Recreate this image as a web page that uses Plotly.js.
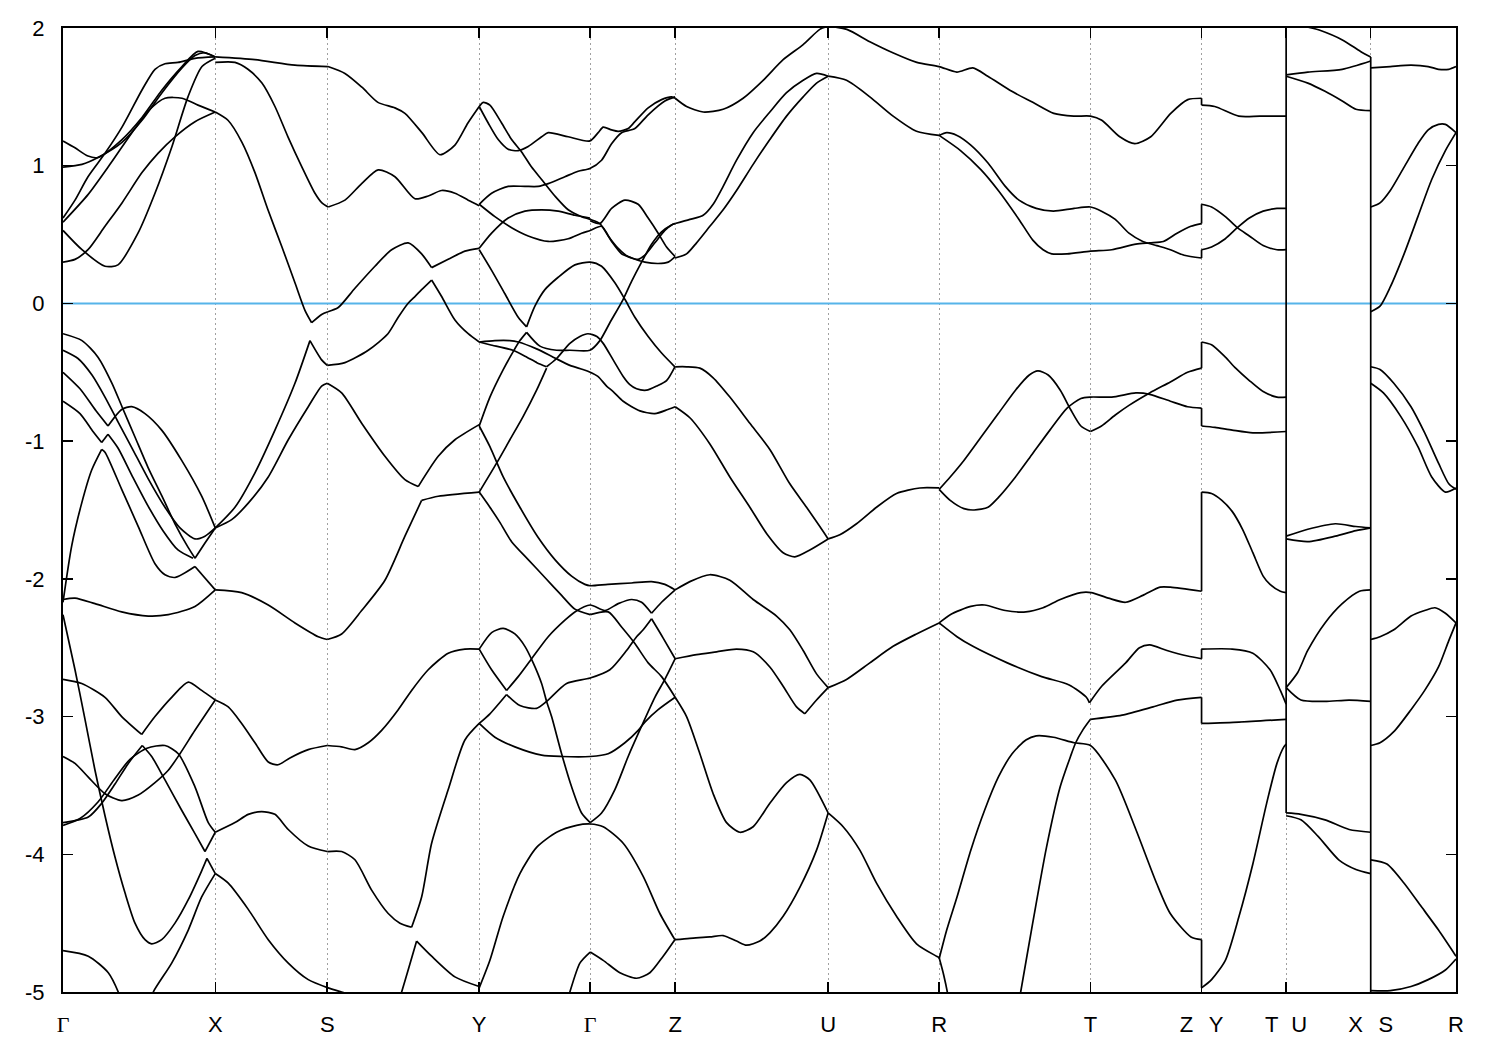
<!DOCTYPE html>
<html>
<head>
<meta charset="utf-8">
<script src="https://cdn.plot.ly/plotly-3.0.1.min.js"></script>
<style>html,body{margin:0;padding:0;background:#fff;}#plot{width:1500px;height:1050px;}</style>
</head>
<body>
<div id="plot"></div>
<script>
// High-symmetry path (k in path-length units) and labels
const kTicks = [0, 1.523, 2.643, 4.163, 5.273, 6.123, 7.653, 8.763, 10.277, 11.388, 12.234, 13.08, 13.933];
const kLabels = ['Γ','X','S','Y','Γ','Z','U','R','T','Z\u2002\u2009Y','T\u2002\u200AU','X\u2002\u2009S','R'];
const eTicks = [-5,-4,-3,-2,-1,0,1,2];
const eLabels = ['-5','-4','-3','-2','-1','0','1','2'];

// Band curves: [k, E(eV)], third element 1 marks a sharp kink
const bandsGX = [
 [[0,1.18],[0.12,1.13],[0.25,1.07],[0.35,1.06],[0.59,1.19],[0.79,1.35],[0.99,1.55],[1.19,1.72],[1.35,1.83],[1.523,1.79]],
 [[0,0.99],[0.19,1.01],[0.35,1.06],[0.59,1.17],[0.79,1.33],[0.99,1.53],[1.19,1.71],[1.32,1.80],[1.42,1.82],[1.523,1.79]],
 [[0,0.62],[0.12,0.75],[0.25,0.92],[0.42,1.09],[0.59,1.28],[0.79,1.55],[0.92,1.70],[1.02,1.74],[1.15,1.75],[1.32,1.78],[1.523,1.79]],
 [[0,0.59],[0.25,0.79],[0.47,1.01],[0.67,1.22],[0.87,1.41],[1.02,1.49],[1.19,1.49],[1.35,1.44],[1.523,1.39]],
 [[0,0.53],[0.19,0.39],[0.42,0.27],[0.55,0.28],[0.75,0.51],[0.92,0.80],[1.09,1.14],[1.25,1.50],[1.39,1.72],[1.523,1.78]],
 [[0,0.30],[0.12,0.32],[0.25,0.39],[0.42,0.56],[0.59,0.73],[0.79,0.95],[0.95,1.09],[1.12,1.21],[1.32,1.32],[1.523,1.39]],
 [[0,-0.22],[0.19,-0.27],[0.35,-0.39],[0.49,-0.58],[0.59,-0.75],[0.72,-0.97],[0.85,-1.19],[0.99,-1.40],[1.12,-1.60],[1.25,-1.77],[1.32,-1.85,1],[1.42,-1.74],[1.523,-1.63]],
 [[0,-0.34],[0.15,-0.40],[0.29,-0.52],[0.42,-0.68],[0.55,-0.86],[0.69,-1.05],[0.85,-1.27],[1.02,-1.48],[1.17,-1.63],[1.32,-1.71],[1.42,-1.69],[1.523,-1.63]],
 [[0,-0.50],[0.17,-0.62],[0.33,-0.78],[0.45,-0.89,1],[0.587,-0.77],[0.687,-0.75],[0.82,-0.80],[0.987,-0.92],[1.187,-1.14],[1.387,-1.40],[1.523,-1.63]],
 [[0,-0.71],[0.17,-0.80],[0.30,-0.93],[0.387,-1.01,1],[0.45,-0.95,1],[0.55,-1.05],[0.69,-1.25],[0.85,-1.47],[1.00,-1.65],[1.15,-1.79],[1.30,-1.85]],
 [[0,-2.17],[0.087,-1.76],[0.187,-1.45],[0.287,-1.21],[0.387,-1.06,1],[0.42,-1.08],[0.587,-1.35],[0.753,-1.62],[0.92,-1.89],[1.02,-1.97],[1.12,-1.99],[1.32,-1.91,1],[1.523,-2.08]],
 [[0,-2.15],[0.12,-2.14],[0.32,-2.18],[0.587,-2.24],[0.853,-2.27],[1.053,-2.26],[1.32,-2.20],[1.523,-2.08]],
 [[0,-2.26],[0.12,-2.66],[0.22,-3.02],[0.32,-3.39],[0.42,-3.72],[0.52,-4.02],[0.62,-4.28],[0.72,-4.50],[0.82,-4.62],[0.887,-4.65],[0.987,-4.62],[1.12,-4.50],[1.253,-4.33],[1.387,-4.12],[1.44,-4.03,1],[1.523,-4.14]],
 [[0.87,-5.08],[0.903,-5.0],[1.087,-4.79],[1.253,-4.55],[1.387,-4.31],[1.523,-4.14]],
 [[0,-2.73],[0.187,-2.76],[0.42,-2.86],[0.587,-3.00],[0.787,-3.13,1],[0.92,-3.00],[1.087,-2.86],[1.253,-2.75],[1.387,-2.81],[1.523,-2.88]],
 [[0,-3.29],[0.12,-3.34],[0.253,-3.44],[0.42,-3.56],[0.587,-3.61],[0.753,-3.57],[0.92,-3.48],[1.053,-3.39],[1.17,-3.27],[1.32,-3.10],[1.523,-2.88]],
 [[0,-3.77],[0.253,-3.73],[0.387,-3.63],[0.52,-3.49],[0.653,-3.34],[0.793,-3.21,1],[0.887,-3.29],[1.02,-3.46],[1.187,-3.68],[1.32,-3.85],[1.42,-3.98,1],[1.523,-3.84]],
 [[0,-3.79],[0.17,-3.74],[0.35,-3.62],[0.52,-3.45],[0.67,-3.31],[0.84,-3.23],[1.02,-3.21],[1.153,-3.27],[1.32,-3.51],[1.453,-3.77],[1.523,-3.84]],
 [[0,-4.70],[0.253,-4.74],[0.453,-4.86],[0.553,-5.0],[0.59,-5.08]]
];

const bandsXS = [
 [[1.523,1.79],[1.92,1.77],[2.32,1.73],[2.65,1.72]],
 [[1.523,1.75],[1.72,1.75],[1.85,1.70],[1.99,1.60],[2.12,1.43],[2.25,1.21],[2.39,0.99],[2.52,0.80],[2.59,0.73],[2.653,0.70]],
 [[1.523,1.39],[1.65,1.33],[1.79,1.17],[1.92,0.95],[2.05,0.68],[2.19,0.41],[2.32,0.15],[2.42,-0.05],[2.487,-0.14,1],[2.587,-0.08],[2.65,-0.06]],
 [[1.523,-1.63],[1.687,-1.57],[1.853,-1.45],[2.053,-1.26],[2.253,-0.99],[2.453,-0.75],[2.587,-0.60],[2.643,-0.58]],
 [[1.523,-1.63],[1.72,-1.48],[1.92,-1.23],[2.12,-0.92],[2.32,-0.58],[2.47,-0.27,1],[2.587,-0.41],[2.643,-0.45]],
 [[1.523,-2.08],[1.787,-2.10],[2.053,-2.19],[2.32,-2.32],[2.553,-2.42],[2.643,-2.44]],
 [[1.523,-2.88],[1.653,-2.93],[1.787,-3.05],[1.92,-3.19],[2.053,-3.33],[2.15,-3.35],[2.27,-3.30],[2.453,-3.24],[2.643,-3.21]],
 [[1.523,-3.84],[1.72,-3.77],[1.853,-3.71],[1.987,-3.69],[2.12,-3.71],[2.253,-3.82],[2.453,-3.94],[2.643,-3.98]],
 [[1.523,-4.14],[1.653,-4.21],[1.853,-4.40],[2.053,-4.62],[2.253,-4.79],[2.453,-4.91],[2.653,-4.97],[2.787,-5.0],[2.92,-5.03]]
];

const bandsSY = [
 [[2.65,1.72],[2.82,1.67],[2.99,1.57],[3.15,1.46],[3.32,1.42],[3.42,1.38],[3.59,1.24],[3.77,1.08],[3.92,1.15],[4.05,1.31],[4.163,1.43]],
 [[2.653,0.70],[2.82,0.75],[2.987,0.87],[3.153,0.97],[3.32,0.92],[3.52,0.76],[3.653,0.78],[3.787,0.82],[3.92,0.80],[4.053,0.75],[4.163,0.71]],
 [[2.65,-0.06],[2.753,-0.03],[2.92,0.11],[3.12,0.27],[3.287,0.39],[3.453,0.44],[3.587,0.36],[3.687,0.26,1],[3.853,0.32],[4.02,0.38],[4.163,0.40]],
 [[2.643,-0.45],[2.82,-0.43],[3.053,-0.34],[3.25,-0.22],[3.353,-0.10],[3.45,0.0],[3.52,0.05],[3.587,0.10],[3.687,0.17,1],[3.787,0.05],[3.92,-0.12],[4.053,-0.22],[4.163,-0.28]],
 [[2.643,-0.58],[2.787,-0.65],[2.987,-0.87],[3.22,-1.11],[3.42,-1.28],[3.553,-1.33,1],[3.753,-1.11],[3.92,-0.99],[4.163,-0.88]],
 [[2.643,-2.44],[2.787,-2.40],[2.987,-2.23],[3.22,-2.01],[3.42,-1.69],[3.587,-1.43,1],[3.753,-1.40],[4.163,-1.37]],
 [[2.643,-3.21],[2.787,-3.22],[2.92,-3.24],[3.053,-3.19],[3.187,-3.10],[3.353,-2.95],[3.487,-2.81],[3.653,-2.66],[3.853,-2.54],[4.02,-2.51],[4.163,-2.51]],
 [[2.643,-3.98],[2.787,-3.98],[2.92,-4.04],[3.087,-4.26],[3.253,-4.43],[3.37,-4.50],[3.487,-4.53,1],[3.587,-4.31],[3.687,-3.92],[3.853,-3.53],[4.02,-3.17],[4.163,-3.05]],
 [[3.35,-5.08],[3.387,-5.0],[3.537,-4.63,1],[3.687,-4.74],[3.92,-4.89],[4.163,-4.96]]
];

const bandsYGZ = [
 [[4.163,1.43],[4.253,1.31],[4.353,1.19],[4.453,1.12],[4.553,1.11],[4.653,1.14],[4.787,1.21],[4.853,1.24],[5.053,1.21],[5.27,1.18],[5.353,1.24],[5.403,1.28],[5.487,1.26],[5.553,1.25],[5.653,1.27],[5.72,1.32],[5.853,1.42],[5.987,1.48],[6.087,1.50],[6.123,1.49]],
 [[4.163,1.43],[4.203,1.46],[4.27,1.44],[4.387,1.31],[4.487,1.19],[4.587,1.10],[4.687,0.99],[4.787,0.90],[4.92,0.78],[5.053,0.68],[5.187,0.63],[5.273,0.61],[5.37,0.58],[5.453,0.49],[5.553,0.40],[5.653,0.34],[5.753,0.32],[5.82,0.35],[5.92,0.44],[6.02,0.53],[6.087,0.57],[6.123,0.58]],
 [[4.163,0.72],[4.287,0.80],[4.453,0.85],[4.62,0.85],[4.753,0.85],[4.853,0.87],[5.02,0.92],[5.153,0.96],[5.27,0.98],[5.387,1.04],[5.487,1.16],[5.587,1.24],[5.72,1.27],[5.853,1.37],[6.02,1.47],[6.123,1.50]],
 [[4.163,0.72],[4.32,0.63],[4.487,0.55],[4.653,0.49],[4.853,0.45],[5.053,0.47],[5.187,0.51],[5.273,0.53],[5.387,0.56],[5.487,0.45],[5.587,0.36],[5.687,0.33],[5.82,0.30],[5.953,0.29],[6.053,0.30],[6.123,0.34]],
 [[5.273,0.60],[5.37,0.58],[5.487,0.69],[5.62,0.75],[5.753,0.72],[5.853,0.62],[5.953,0.51],[6.037,0.41],[6.123,0.34]],
 [[4.163,0.40],[4.287,0.51],[4.453,0.62],[4.62,0.67],[4.787,0.68],[4.953,0.67],[5.12,0.64],[5.27,0.62]],
 [[4.163,0.39],[4.287,0.24],[4.42,0.07],[4.553,-0.10],[4.637,-0.17,1],[4.72,-0.02],[4.82,0.10],[4.953,0.19],[5.12,0.28],[5.273,0.30],[5.387,0.27],[5.52,0.15],[5.62,0.03],[5.72,-0.10],[5.853,-0.24],[5.987,-0.36],[6.12,-0.46]],
 [[4.163,-0.89],[4.27,-0.68],[4.403,-0.48],[4.503,-0.35],[4.57,-0.27],[4.637,-0.21,1],[4.77,-0.31],[4.937,-0.34],[5.07,-0.34],[5.27,-0.34],[5.37,-0.27],[5.47,-0.14],[5.603,0.03],[5.687,0.16],[5.787,0.30],[5.887,0.43],[5.987,0.52],[6.087,0.57],[6.123,0.58]],
 [[4.163,-0.28],[4.27,-0.30],[4.50,-0.34],[4.64,-0.39],[4.74,-0.43],[4.837,-0.46,1],[4.937,-0.40],[5.07,-0.29],[5.17,-0.24],[5.25,-0.22],[5.34,-0.24],[5.403,-0.29],[5.503,-0.41],[5.603,-0.53],[5.67,-0.59],[5.737,-0.62],[5.837,-0.63],[5.937,-0.60],[6.037,-0.56],[6.12,-0.46]],
 [[4.163,-1.37],[4.337,-1.16],[4.47,-0.99],[4.603,-0.82],[4.737,-0.63],[4.837,-0.47]],
 [[4.163,-0.28],[4.32,-0.27],[4.47,-0.27],[4.553,-0.28],[4.737,-0.33],[4.903,-0.39],[5.07,-0.45],[5.20,-0.48],[5.273,-0.50],[5.35,-0.53],[5.437,-0.60],[5.503,-0.64],[5.603,-0.71],[5.77,-0.78],[5.92,-0.80],[6.05,-0.77],[6.123,-0.75]],
 [[4.163,-0.89],[4.27,-1.04],[4.403,-1.26],[4.57,-1.48],[4.753,-1.70],[4.92,-1.86],[5.087,-1.98],[5.22,-2.04],[5.273,-2.05],[5.45,-2.04],[5.687,-2.03],[5.887,-2.02],[6.02,-2.04],[6.123,-2.08]],
 [[4.163,-1.37],[4.27,-1.48],[4.37,-1.59],[4.487,-1.73],[4.653,-1.86],[4.82,-1.99],[4.987,-2.12],[5.12,-2.22],[5.273,-2.26,1],[5.453,-2.24],[5.587,-2.35],[5.72,-2.47],[5.853,-2.61],[5.987,-2.71],[6.123,-2.86]],
 [[4.163,-2.51],[4.287,-2.66],[4.437,-2.81,1],[4.553,-2.71],[4.687,-2.58],[4.853,-2.42],[5.02,-2.30],[5.12,-2.24],[5.273,-2.19],[5.42,-2.23],[5.553,-2.18],[5.687,-2.15],[5.787,-2.17],[5.887,-2.25,1],[5.987,-2.17],[6.123,-2.08]],
 [[4.163,-2.51],[4.287,-2.39],[4.403,-2.36],[4.52,-2.40],[4.62,-2.49],[4.703,-2.61],[4.787,-2.76],[4.837,-2.89],[4.887,-3.00],[4.987,-3.27],[5.087,-3.51],[5.187,-3.70],[5.273,-3.77,1],[5.387,-3.70],[5.52,-3.53],[5.653,-3.29],[5.787,-3.07],[5.92,-2.86],[6.02,-2.73],[6.123,-2.58]],
 [[4.163,-3.05],[4.27,-2.98],[4.437,-2.84,1],[4.57,-2.92],[4.737,-2.94],[4.837,-2.89],[5.037,-2.76],[5.273,-2.72],[5.47,-2.66],[5.637,-2.52],[5.737,-2.42],[5.803,-2.37],[5.887,-2.29,1],[6.003,-2.43],[6.123,-2.58]],
 [[4.163,-3.05],[4.32,-3.15],[4.52,-3.22],[4.787,-3.28],[4.987,-3.29],[5.273,-3.29],[5.453,-3.27],[5.62,-3.19],[5.753,-3.10],[5.82,-3.04],[5.953,-2.95],[6.123,-2.86]],
 [[4.163,-4.97],[4.27,-4.77],[4.403,-4.45],[4.57,-4.14],[4.737,-3.95],[4.937,-3.84],[5.137,-3.79],[5.273,-3.78],[5.403,-3.80],[5.603,-3.92],[5.803,-4.16],[5.97,-4.43],[6.12,-4.62]],
 [[5.04,-5.08],[5.07,-5.0],[5.17,-4.79],[5.273,-4.71,1],[5.403,-4.77],[5.57,-4.86],[5.737,-4.90],[5.87,-4.86],[6.003,-4.74],[6.12,-4.62]]
];

const bandsZURTZ = [
 [[6.123,1.49],[6.237,1.43],[6.403,1.39],[6.603,1.41],[6.803,1.49],[7.003,1.62],[7.203,1.77],[7.403,1.88],[7.57,1.99],[7.653,2.01],[7.84,1.99],[8.07,1.90],[8.30,1.82],[8.54,1.75],[8.763,1.72],[8.94,1.68],[9.10,1.71],[9.25,1.65],[9.49,1.54],[9.70,1.46],[9.91,1.38],[10.11,1.36],[10.277,1.36],[10.39,1.33],[10.57,1.21],[10.72,1.16],[10.88,1.21],[11.08,1.38],[11.25,1.48],[11.388,1.49]],
 [[6.123,0.58],[6.27,0.61],[6.403,0.64],[6.503,0.72],[6.603,0.85],[6.737,1.04],[6.903,1.24],[7.07,1.39],[7.237,1.53],[7.403,1.62],[7.537,1.67],[7.653,1.65]],
 [[6.123,0.33],[6.237,0.36],[6.337,0.44],[6.47,0.56],[6.603,0.68],[6.737,0.82],[6.903,1.01],[7.07,1.19],[7.237,1.36],[7.403,1.50],[7.537,1.60],[7.653,1.65]],
 [[7.653,1.65],[7.837,1.62],[8.07,1.50],[8.303,1.36],[8.537,1.25],[8.763,1.22]],
 [[8.763,1.22],[8.839,1.24],[8.942,1.22],[9.08,1.15],[9.252,1.02],[9.425,0.85],[9.562,0.75],[9.734,0.69],[9.906,0.67],[10.113,0.69],[10.277,0.70],[10.387,0.67],[10.525,0.61],[10.662,0.51],[10.80,0.45],[10.94,0.42],[11.076,0.39],[11.214,0.35],[11.388,0.33]],
 [[8.763,1.22],[8.977,1.11],[9.183,0.97],[9.355,0.82],[9.562,0.61],[9.70,0.46],[9.803,0.39],[9.889,0.36],[10.043,0.36],[10.277,0.38],[10.49,0.39],[10.731,0.43],[10.869,0.44],[11.006,0.45],[11.143,0.51],[11.281,0.56],[11.388,0.58]],
 [[6.123,-0.46],[6.237,-0.46],[6.37,-0.47],[6.503,-0.54],[6.67,-0.68],[6.87,-0.87],[7.07,-1.06],[7.27,-1.31],[7.437,-1.48],[7.57,-1.62],[7.653,-1.71]],
 [[6.123,-0.75],[6.27,-0.83],[6.47,-1.02],[6.67,-1.26],[6.87,-1.48],[7.037,-1.67],[7.203,-1.81],[7.32,-1.84],[7.47,-1.79],[7.653,-1.71]],
 [[7.653,-1.71],[7.77,-1.68],[7.937,-1.60],[8.137,-1.48],[8.337,-1.38],[8.57,-1.34],[8.763,-1.34]],
 [[8.763,-1.35],[8.874,-1.26],[9.011,-1.14],[9.183,-0.97],[9.355,-0.80],[9.527,-0.63],[9.665,-0.52],[9.751,-0.49],[9.854,-0.52],[9.975,-0.63],[10.078,-0.77],[10.181,-0.89],[10.277,-0.93,1],[10.387,-0.89],[10.525,-0.81],[10.662,-0.74],[10.869,-0.65],[11.076,-0.57],[11.248,-0.50],[11.388,-0.47]],
 [[8.763,-1.35],[8.874,-1.43],[9.011,-1.49],[9.114,-1.50],[9.252,-1.48],[9.355,-1.41],[9.527,-1.26],[9.699,-1.09],[9.871,-0.92],[10.043,-0.76],[10.181,-0.69],[10.277,-0.68],[10.49,-0.68],[10.731,-0.65],[10.869,-0.66],[11.076,-0.71],[11.248,-0.75],[11.388,-0.76]],
 [[6.123,-2.08],[6.27,-2.02],[6.47,-1.97],[6.67,-2.01],[6.903,-2.15],[7.137,-2.27],[7.27,-2.37],[7.403,-2.52],[7.537,-2.69],[7.653,-2.79]],
 [[6.123,-2.58],[6.337,-2.55],[6.537,-2.53],[6.737,-2.51],[6.903,-2.53],[7.07,-2.64],[7.203,-2.78],[7.337,-2.93],[7.42,-2.98,1],[7.537,-2.88],[7.653,-2.79]],
 [[7.653,-2.79],[7.837,-2.73],[8.07,-2.61],[8.303,-2.49],[8.537,-2.40],[8.763,-2.32]],
 [[8.763,-2.32],[8.874,-2.26],[9.08,-2.20],[9.218,-2.19],[9.425,-2.23],[9.631,-2.24],[9.803,-2.21],[9.975,-2.15],[10.181,-2.10],[10.284,-2.10],[10.456,-2.14],[10.629,-2.17],[10.801,-2.12],[10.973,-2.06],[11.076,-2.06],[11.388,-2.09]],
 [[8.763,-2.32],[8.942,-2.42],[9.101,-2.49],[9.445,-2.61],[9.789,-2.71],[10.064,-2.77],[10.236,-2.86],[10.267,-2.90,1],[10.389,-2.78],[10.629,-2.61],[10.767,-2.50],[10.87,-2.48],[11.042,-2.52],[11.248,-2.56],[11.388,-2.58]],
 [[6.123,-2.86],[6.237,-3.00],[6.37,-3.27],[6.503,-3.56],[6.637,-3.77],[6.77,-3.84],[6.903,-3.80],[7.07,-3.63],[7.237,-3.48],[7.37,-3.42],[7.47,-3.46],[7.653,-3.70]],
 [[6.12,-4.62],[6.27,-4.61],[6.47,-4.60],[6.603,-4.59],[6.737,-4.63],[6.837,-4.66],[6.97,-4.63],[7.07,-4.57],[7.203,-4.45],[7.37,-4.24],[7.537,-3.97],[7.653,-3.70]],
 [[7.653,-3.70],[7.803,-3.80],[7.97,-3.97],[8.137,-4.21],[8.337,-4.45],[8.537,-4.65],[8.737,-4.74],[8.763,-4.75]],
 [[8.763,-4.75],[8.81,-4.88],[8.85,-5.02],[8.86,-5.08]],
 [[8.763,-4.76],[8.839,-4.55],[8.942,-4.31],[9.08,-3.97],[9.218,-3.68],[9.355,-3.44],[9.493,-3.27],[9.631,-3.17],[9.734,-3.14],[9.906,-3.15],[10.113,-3.19],[10.277,-3.21],[10.525,-3.46],[10.731,-3.82],[10.938,-4.21],[11.075,-4.43],[11.282,-4.60],[11.388,-4.62]],
 [[9.56,-5.08],[9.579,-5.0],[9.699,-4.50],[9.837,-3.95],[9.974,-3.51],[10.077,-3.29],[10.129,-3.19],[10.198,-3.10],[10.277,-3.02,1],[10.593,-2.99],[10.903,-2.93],[11.143,-2.88],[11.388,-2.86]]
];

const bandsYT = [
 [[11.388,1.44],[11.52,1.43],[11.76,1.36],[11.97,1.36],[12.234,1.36]],
 [[11.388,0.72],[11.488,0.70],[11.626,0.63],[11.746,0.55],[11.866,0.49],[12.004,0.42],[12.142,0.39],[12.234,0.39]],
 [[11.388,0.39],[11.488,0.41],[11.626,0.47],[11.746,0.55],[11.866,0.62],[12.004,0.67],[12.142,0.69],[12.234,0.69]],
 [[11.388,-0.28],[11.488,-0.30],[11.626,-0.39],[11.729,-0.47],[11.866,-0.56],[12.004,-0.64],[12.142,-0.68],[12.234,-0.68]],
 [[11.388,-0.89],[11.522,-0.90],[11.694,-0.92],[11.901,-0.94],[12.234,-0.93]],
 [[11.388,-1.37],[11.488,-1.38],[11.591,-1.43],[11.694,-1.51],[11.798,-1.64],[11.901,-1.81],[12.004,-1.98],[12.073,-2.04],[12.176,-2.09],[12.234,-2.10]],
 [[11.388,-2.51],[11.694,-2.51],[11.901,-2.54],[12.073,-2.66],[12.176,-2.81],[12.234,-2.91]],
 [[11.388,-3.05],[11.763,-3.04],[12.234,-3.02]],
 [[11.388,-4.97],[11.488,-4.91],[11.626,-4.77],[11.763,-4.45],[11.901,-4.07],[12.039,-3.63],[12.142,-3.34],[12.211,-3.22],[12.234,-3.20]]
];

const bandsUX = [
 [[12.234,2.12],[12.40,2.02],[12.565,1.985],[12.806,1.91],[12.978,1.83],[13.08,1.79]],
 [[12.234,1.66],[12.451,1.68],[12.795,1.70],[13.08,1.76]],
 [[12.234,1.65],[12.451,1.60],[12.623,1.54],[12.795,1.47],[12.932,1.41],[13.08,1.40]],
 [[12.234,-1.69],[12.451,-1.64],[12.726,-1.60],[12.932,-1.62],[13.08,-1.63]],
 [[12.234,-1.71],[12.451,-1.73],[12.726,-1.69],[12.932,-1.65],[13.08,-1.63]],
 [[12.234,-2.79],[12.35,-2.68],[12.45,-2.52],[12.623,-2.32],[12.795,-2.18],[12.967,-2.09],[13.08,-2.08]],
 [[12.234,-2.79],[12.382,-2.88],[12.623,-2.89],[12.864,-2.88],[13.08,-2.89]],
 [[12.234,-3.70],[12.382,-3.71],[12.623,-3.75],[12.864,-3.82],[13.08,-3.84]],
 [[12.234,-3.72],[12.382,-3.75],[12.554,-3.87],[12.76,-4.04],[12.932,-4.11],[13.08,-4.14]]
];

const bandsSR = [
 [[13.08,1.71],[13.276,1.72],[13.483,1.73],[13.655,1.72],[13.758,1.70],[13.861,1.70],[13.933,1.72]],
 [[13.08,0.70],[13.173,0.73],[13.276,0.82],[13.414,0.99],[13.552,1.16],[13.655,1.26],[13.758,1.30],[13.827,1.30],[13.933,1.24]],
 [[13.08,-0.06],[13.173,-0.02],[13.276,0.12],[13.414,0.36],[13.552,0.63],[13.69,0.90],[13.827,1.11],[13.933,1.24]],
 [[13.08,-0.46],[13.173,-0.48],[13.311,-0.58],[13.483,-0.75],[13.62,-0.94],[13.758,-1.16],[13.861,-1.31],[13.933,-1.35]],
 [[13.08,-0.58],[13.207,-0.65],[13.38,-0.82],[13.552,-1.04],[13.69,-1.26],[13.827,-1.37],[13.933,-1.34]],
 [[13.08,-2.44],[13.173,-2.42],[13.311,-2.37],[13.483,-2.27],[13.62,-2.23],[13.723,-2.21],[13.827,-2.25],[13.933,-2.32]],
 [[13.08,-3.21],[13.173,-3.19],[13.311,-3.11],[13.483,-2.95],[13.62,-2.81],[13.758,-2.64],[13.86,-2.45],[13.933,-2.32]],
 [[13.08,-4.04],[13.242,-4.07],[13.414,-4.21],[13.586,-4.38],[13.758,-4.55],[13.933,-4.74]],
 [[13.08,-4.99],[13.276,-4.99],[13.483,-4.96],[13.655,-4.91],[13.827,-4.84],[13.933,-4.76]]
];

// Band jumps at the path discontinuities: [k, E before, E after]
const jumps = [
 [11.388,1.49,1.44],[11.388,0.58,0.72],[11.388,0.33,0.39],[11.388,-0.47,-0.28],[11.388,-0.76,-0.89],
 [11.388,-2.09,-1.37],[11.388,-2.58,-2.51],[11.388,-2.86,-3.05],[11.388,-4.62,-4.97],
 [12.234,-3.70,2.10],
 [13.08,1.79,-5.10]
];
const fermiLevel = 0;

// ---- build traces ----
const bx = [], by = [];
function addCurve(curve){
  let piece = [];
  const flush = () => {
    if (piece.length > 1){ piece.forEach(p => { bx.push(p[0]); by.push(p[1]); }); bx.push(null); by.push(null); }
  };
  curve.forEach(p => {
    piece.push(p);
    if (p[2] === 1){ flush(); piece = [p]; }
  });
  flush();
}
[bandsGX, bandsXS, bandsSY, bandsYGZ, bandsZURTZ, bandsYT, bandsUX, bandsSR].forEach(g => g.forEach(addCurve));

const jx = [], jy = [];
jumps.forEach(j => { jx.push(j[0], j[0], null); jy.push(j[1], j[2], null); });

const traces = [
  {x:[kTicks[0], kTicks[kTicks.length-1]], y:[fermiLevel, fermiLevel], mode:'lines',
   line:{color:'#56b4e9', width:2}, hoverinfo:'skip', showlegend:false},
  {x:bx, y:by, mode:'lines', line:{color:'#000', width:1.7, shape:'spline', smoothing:0.7},
   hoverinfo:'skip', showlegend:false},
  {x:jx, y:jy, mode:'lines', line:{color:'#000', width:1.7}, hoverinfo:'skip', showlegend:false}
];

const tickFont = {family:'"Liberation Sans", Arial, sans-serif', size:22, color:'#000'};
const kText = kLabels.map(t => t === 'Γ' ? '<span style="font-family:\'Liberation Serif\',serif">Γ</span>' : t);

const layout = {
  width:1500, height:1050,
  margin:{l:63, r:44, t:28, b:58},
  paper_bgcolor:'#fff', plot_bgcolor:'#fff',
  xaxis:{range:[kTicks[0], kTicks[kTicks.length-1]], tickvals:kTicks, ticktext:kText,
         ticks:'inside', ticklen:10, tickwidth:1.5, tickcolor:'#000',
         showline:true, linecolor:'#000', linewidth:2, mirror:'ticks',
         showgrid:true, gridcolor:'#a0a0a0', gridwidth:1, griddash:'2px,3px',
         zeroline:false, tickfont:tickFont, ticklabelstandoff:12},
  yaxis:{range:[-5,2], tickvals:eTicks, ticktext:eLabels,
         ticks:'inside', ticklen:10, tickwidth:1.5, tickcolor:'#000',
         showline:true, linecolor:'#000', linewidth:2, mirror:'ticks',
         showgrid:false, zeroline:false, tickfont:tickFont, ticklabelstandoff:12},
  showlegend:false
};

Plotly.newPlot('plot', traces, layout, {staticPlot:true, displayModeBar:false});
</script>
</body>
</html>
